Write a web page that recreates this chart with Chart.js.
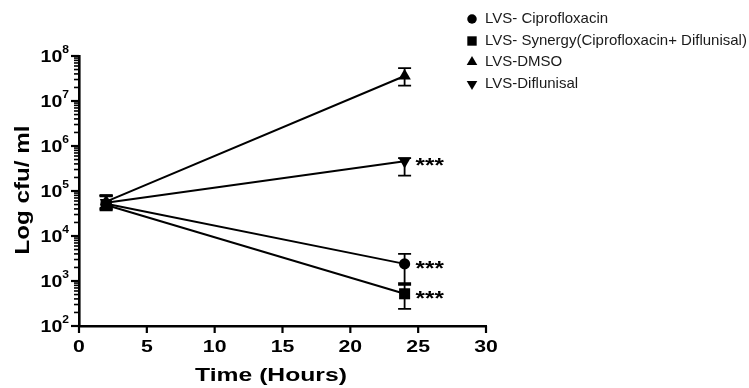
<!DOCTYPE html>
<html lang="en">
<head>
<meta charset="UTF-8" />
<title>LVS time kill</title>
<script src="https://cdn.jsdelivr.net/npm/chart.js"></script>
<style>
  html, body { margin: 0; padding: 0; background: #fff; }
  #wrap { position: relative; width: 749px; height: 388px; }
</style>
</head>
<body>
<div id="wrap"><canvas id="chart" width="749" height="388"></canvas></div>
<script>
// time points (hours)
const hours = [2, 24];

const seriesNames = [
  'LVS- Ciprofloxacin',
  'LVS- Synergy(Ciprofloxacin+ Diflunisal)',
  'LVS-DMSO',
  'LVS-Diflunisal'
];

// cfu/ml: mean, lower and upper end of error bar
const ciproMean = [5.2e4, 2.4e3];
const ciproLow  = [3.9e4, 8.2e2];
const ciproHigh = [7.8e4, 4.0e3];

const synergyMean = [4.9e4, 5.2e2];
const synergyLow  = [3.7e4, 2.4e2];
const synergyHigh = [7.6e4, 9.0e2];

const dmsoMean = [5.8e4, 3.6e7];
const dmsoLow  = [4.2e4, 2.2e7];
const dmsoHigh = [8.1e4, 5.4e7];

const diflMean = [5.5e4, 4.6e5];
const diflLow  = [4.0e4, 2.2e5];
const diflHigh = [8.0e4, 5.4e5];

// significance marks at 24 h
const signif = ['***', '***', '', '***'];

const xTicks = [0, 5, 10, 15, 20, 25, 30];
const yDecades = [2, 3, 4, 5, 6, 7, 8];

const markers = [
  { style: 'circle', radius: 5.6, rotation: 0 },
  { style: 'rect', radius: 7.8, rotation: 0 },
  { style: 'triangle', radius: 7.2, rotation: 0 },
  { style: 'triangle', radius: 7.2, rotation: 180 }
];

function makeSet(i, mean, low, high) {
  return {
    label: seriesNames[i],
    data: hours.map((h, k) => ({ x: h, y: mean[k] })),
    low: low,
    high: high,
    star: signif[i],
    borderColor: '#000',
    backgroundColor: '#000',
    borderWidth: 2,
    pointStyle: markers[i].style,
    pointRadius: markers[i].radius,
    pointRotation: markers[i].rotation,
    pointBorderWidth: 0,
    tension: 0
  };
}

function txt(ctx, s, x, y, font, align, sx, base) {
  ctx.save();
  ctx.font = font;
  ctx.textAlign = align;
  ctx.textBaseline = base || 'middle';
  ctx.translate(x, y);
  ctx.scale(sx || 1, 1);
  ctx.fillText(s, 0, 0);
  ctx.restore();
}

const decor = {
  id: 'decor',
  beforeDatasetsDraw(chart) {
    const { ctx, scales: { x, y } } = chart;
    ctx.save();
    ctx.strokeStyle = '#000';
    ctx.lineWidth = 1.8;
    chart.data.datasets.forEach(ds => {
      hours.forEach((h, i) => {
        const px = x.getPixelForValue(h);
        const yl = y.getPixelForValue(ds.low[i]);
        const yh = y.getPixelForValue(ds.high[i]);
        ctx.beginPath();
        ctx.moveTo(px, yl); ctx.lineTo(px, yh);
        ctx.moveTo(px - 6.5, yl); ctx.lineTo(px + 6.5, yl);
        ctx.moveTo(px - 6.5, yh); ctx.lineTo(px + 6.5, yh);
        ctx.stroke();
      });
    });
    ctx.restore();
  },
  afterDraw(chart) {
    const { ctx, scales: { x, y } } = chart;
    ctx.save();
    ctx.fillStyle = '#000';
    ctx.strokeStyle = '#000';

    // y ticks (log, with minor ones)
    yDecades.forEach((d, k) => {
      const py = y.getPixelForValue(Math.pow(10, d));
      ctx.lineWidth = 2.2;
      ctx.beginPath(); ctx.moveTo(y.left, py); ctx.lineTo(y.left - 8, py); ctx.stroke();
      if (k < yDecades.length - 1) {
        ctx.lineWidth = 1.6;
        for (let m = 2; m <= 9; m++) {
          const my = y.getPixelForValue(m * Math.pow(10, d));
          ctx.beginPath(); ctx.moveTo(y.left, my); ctx.lineTo(y.left - 5, my); ctx.stroke();
        }
      }
      // label 10^d
      ctx.font = 'bold 11px Arial, "Liberation Sans", sans-serif';
      const supW = ctx.measureText(String(d)).width * 1.1;
      const right = y.left - 10;
      txt(ctx, String(d), right - supW, py - 6, 'bold 11px Arial, "Liberation Sans", sans-serif', 'left', 1.1);
      txt(ctx, '10', right - supW, py + 1, 'bold 17px Arial, "Liberation Sans", sans-serif', 'right', 1.15);
    });

    // x ticks
    xTicks.forEach(t => {
      const px = x.getPixelForValue(t);
      ctx.lineWidth = 2.2;
      ctx.beginPath(); ctx.moveTo(px, x.top); ctx.lineTo(px, x.top + 7); ctx.stroke();
      txt(ctx, String(t), px, x.top + 21, 'bold 17px Arial, "Liberation Sans", sans-serif', 'center', 1.25);
    });

    // axis titles
    txt(ctx, 'Time (Hours)', 271, 376, 'bold 19px Arial, "Liberation Sans", sans-serif', 'center', 1.3);
    ctx.save();
    ctx.translate(23, 190);
    ctx.rotate(-Math.PI / 2);
    txt(ctx, 'Log cfu/ ml', 0, 0, 'bold 21px Arial, "Liberation Sans", sans-serif', 'center', 1.15);
    ctx.restore();

    // significance stars
    chart.data.datasets.forEach(ds => {
      if (!ds.star) return;
      const last = hours.length - 1;
      const px = x.getPixelForValue(hours[last]);
      const py = y.getPixelForValue(ds.data[last].y);
      txt(ctx, ds.star, px + 11, py + 11, 'bold 21px Arial, "Liberation Sans", sans-serif', 'left', 1.15, 'alphabetic');
    });

    // legend
    const rows = [19, 41, 62, 84];
    chart.data.datasets.forEach((ds, i) => {
      Chart.helpers.drawPoint(ctx, {
        pointStyle: markers[i].style,
        radius: markers[i].radius * 0.85,
        rotation: markers[i].rotation,
        borderWidth: 0
      }, 472, rows[i]);
      ctx.fillStyle = '#000';
      ctx.fill && null;
      ctx.fillStyle = '#1a1a1a';
      txt(ctx, ds.label, 485, rows[i], '15px Arial, "Liberation Sans", sans-serif', 'left', 1);
      ctx.fillStyle = '#000';
    });
    ctx.restore();
  }
};

new Chart(document.getElementById('chart'), {
  type: 'line',
  data: {
    datasets: [
      makeSet(0, ciproMean, ciproLow, ciproHigh),
      makeSet(1, synergyMean, synergyLow, synergyHigh),
      makeSet(2, dmsoMean, dmsoLow, dmsoHigh),
      makeSet(3, diflMean, diflLow, diflHigh)
    ]
  },
  options: {
    responsive: false,
    animation: false,
    layout: { padding: { left: 79, top: 56, right: 263, bottom: 62 } },
    plugins: { legend: { display: false }, tooltip: { enabled: false } },
    scales: {
      x: {
        type: 'linear', min: 0, max: 30,
        ticks: { display: false },
        grid: { display: false, drawTicks: false },
        border: { display: true, color: '#000', width: 2.6 }
      },
      y: {
        type: 'logarithmic', min: 100, max: 1e8,
        ticks: { display: false },
        grid: { display: false, drawTicks: false },
        border: { display: true, color: '#000', width: 2.6 }
      }
    }
  },
  plugins: [decor]
});
</script>
</body>
</html>
